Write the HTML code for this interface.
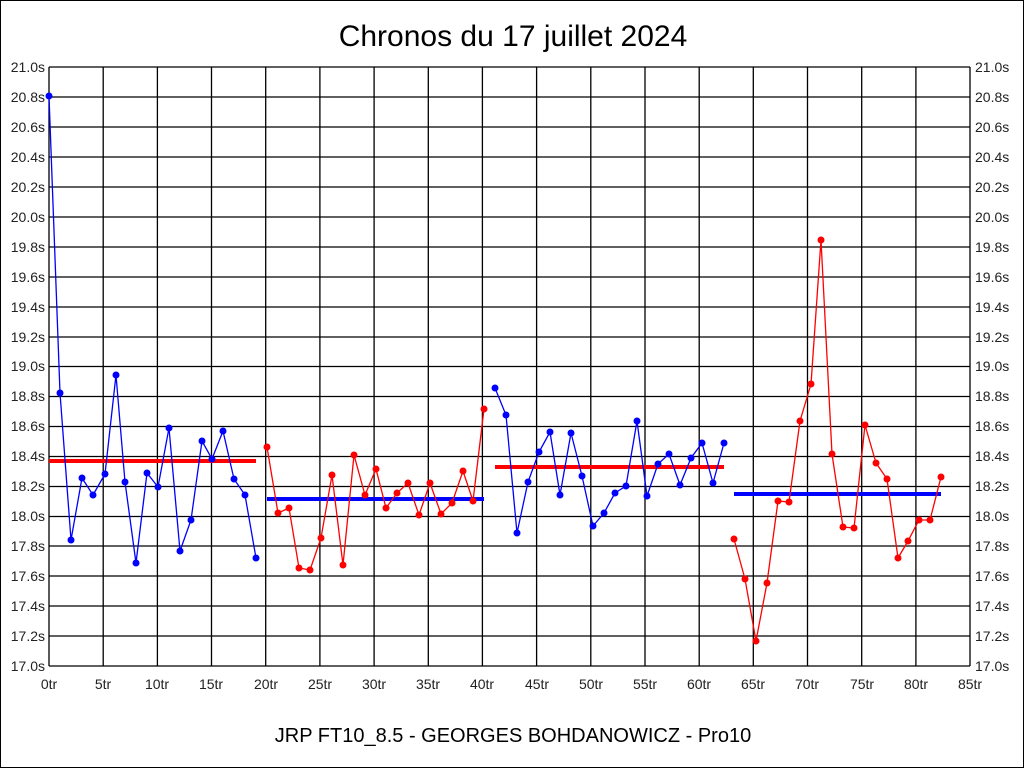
<!DOCTYPE html>
<html><head><meta charset="utf-8"><style>html,body{margin:0;padding:0;background:#fff}svg{display:block}</style></head><body>
<svg width="1024" height="768" xmlns="http://www.w3.org/2000/svg" font-family="Liberation Sans, sans-serif">
<rect x="0.5" y="0.5" width="1023" height="767" fill="#fff" stroke="#000"/>
<text x="513" y="46" font-size="30" text-anchor="middle">Chronos du 17 juillet 2024</text>
<text x="513" y="742" font-size="20" text-anchor="middle">JRP FT10_8.5 - GEORGES BOHDANOWICZ - Pro10</text>
<g stroke="#000" stroke-width="1.3" fill="none">
<path d="M49 67V666M103.2 67V666M157.4 67V666M211.5 67V666M265.7 67V666M319.9 67V666M374.1 67V666M428.3 67V666M482.4 67V666M536.6 67V666M590.8 67V666M645 67V666M699.2 67V666M753.3 67V666M807.5 67V666M861.7 67V666M915.9 67V666M970 67V666"/>
<path d="M49 67H970M49 97H970M49 127H970M49 157H970M49 187H970M49 217H970M49 247H970M49 277H970M49 307H970M49 337H970M49 366.5H970M49 396.5H970M49 426.5H970M49 456.5H970M49 486.5H970M49 516.5H970M49 546H970M49 576H970M49 606H970M49 636H970M49 666H970"/>
</g>
<g font-size="14" fill="#222" text-anchor="end">
<text x="45" y="72">21.0s</text><text x="45" y="102">20.8s</text><text x="45" y="132">20.6s</text><text x="45" y="162">20.4s</text><text x="45" y="192">20.2s</text><text x="45" y="222">20.0s</text><text x="45" y="252">19.8s</text><text x="45" y="282">19.6s</text><text x="45" y="312">19.4s</text><text x="45" y="342">19.2s</text><text x="45" y="371">19.0s</text><text x="45" y="401">18.8s</text><text x="45" y="431">18.6s</text><text x="45" y="461">18.4s</text><text x="45" y="491">18.2s</text><text x="45" y="521">18.0s</text><text x="45" y="551">17.8s</text><text x="45" y="581">17.6s</text><text x="45" y="611">17.4s</text><text x="45" y="641">17.2s</text><text x="45" y="671">17.0s</text>
</g>
<g font-size="14" fill="#222">
<text x="975" y="72">21.0s</text><text x="975" y="102">20.8s</text><text x="975" y="132">20.6s</text><text x="975" y="162">20.4s</text><text x="975" y="192">20.2s</text><text x="975" y="222">20.0s</text><text x="975" y="252">19.8s</text><text x="975" y="282">19.6s</text><text x="975" y="312">19.4s</text><text x="975" y="342">19.2s</text><text x="975" y="371">19.0s</text><text x="975" y="401">18.8s</text><text x="975" y="431">18.6s</text><text x="975" y="461">18.4s</text><text x="975" y="491">18.2s</text><text x="975" y="521">18.0s</text><text x="975" y="551">17.8s</text><text x="975" y="581">17.6s</text><text x="975" y="611">17.4s</text><text x="975" y="641">17.2s</text><text x="975" y="671">17.0s</text>
</g>
<g font-size="14" fill="#222" text-anchor="middle">
<text x="49" y="689">0tr</text><text x="103" y="689">5tr</text><text x="157" y="689">10tr</text><text x="211" y="689">15tr</text><text x="266" y="689">20tr</text><text x="320" y="689">25tr</text><text x="374" y="689">30tr</text><text x="428" y="689">35tr</text><text x="482" y="689">40tr</text><text x="537" y="689">45tr</text><text x="591" y="689">50tr</text><text x="645" y="689">55tr</text><text x="699" y="689">60tr</text><text x="753" y="689">65tr</text><text x="807" y="689">70tr</text><text x="862" y="689">75tr</text><text x="916" y="689">80tr</text><text x="970" y="689">85tr</text>
</g>
<g stroke-width="4">
<path d="M49 461H256" stroke="#f00"/>
<path d="M267 499H484" stroke="#00f"/>
<path d="M495 467H724" stroke="#f00"/>
<path d="M734 494H941" stroke="#00f"/>
</g>
<g fill="none" stroke-width="1.3">
<polyline stroke="#00f" points="49,96 60,393 71,540 82,478 93,495 105,474 116,375 125,482 136,563 147,473 158,487 169,428 180,551 191,520 202,441 212,459 223,431 234,479 245,495 256,558"/>
<polyline stroke="#f00" points="267,447 278,513 289,508 299,568 310,570 321,538 332,475 343,565 354,455 365,495 376,469 386,508 397,493 408,483 419,515 430,483 441,514 452,503 463,471 473,501 484,409"/>
<polyline stroke="#00f" points="495,388 506,415 517,533 528,482 539,452 550,432 560,495 571,433 582,476 593,526 604,513 615,493 626,486 637,421 647,496 658,464 669,454 680,485 691,458 702,443 713,483 724,443"/>
<polyline stroke="#f00" points="734,539 745,579 756,641 767,583 778,501 789,502 800,421 811,384 821,240 832,454 843,527 854,528 865,425 876,463 887,479 898,558 908,541 919,520 930,520 941,477"/>
</g>
<g fill="#00f">
<circle cx="49" cy="96" r="3.5"/><circle cx="60" cy="393" r="3.5"/><circle cx="71" cy="540" r="3.5"/><circle cx="82" cy="478" r="3.5"/><circle cx="93" cy="495" r="3.5"/><circle cx="105" cy="474" r="3.5"/><circle cx="116" cy="375" r="3.5"/><circle cx="125" cy="482" r="3.5"/><circle cx="136" cy="563" r="3.5"/><circle cx="147" cy="473" r="3.5"/><circle cx="158" cy="487" r="3.5"/><circle cx="169" cy="428" r="3.5"/><circle cx="180" cy="551" r="3.5"/><circle cx="191" cy="520" r="3.5"/><circle cx="202" cy="441" r="3.5"/><circle cx="212" cy="459" r="3.5"/><circle cx="223" cy="431" r="3.5"/><circle cx="234" cy="479" r="3.5"/><circle cx="245" cy="495" r="3.5"/><circle cx="256" cy="558" r="3.5"/>
<circle cx="495" cy="388" r="3.5"/><circle cx="506" cy="415" r="3.5"/><circle cx="517" cy="533" r="3.5"/><circle cx="528" cy="482" r="3.5"/><circle cx="539" cy="452" r="3.5"/><circle cx="550" cy="432" r="3.5"/><circle cx="560" cy="495" r="3.5"/><circle cx="571" cy="433" r="3.5"/><circle cx="582" cy="476" r="3.5"/><circle cx="593" cy="526" r="3.5"/><circle cx="604" cy="513" r="3.5"/><circle cx="615" cy="493" r="3.5"/><circle cx="626" cy="486" r="3.5"/><circle cx="637" cy="421" r="3.5"/><circle cx="647" cy="496" r="3.5"/><circle cx="658" cy="464" r="3.5"/><circle cx="669" cy="454" r="3.5"/><circle cx="680" cy="485" r="3.5"/><circle cx="691" cy="458" r="3.5"/><circle cx="702" cy="443" r="3.5"/><circle cx="713" cy="483" r="3.5"/><circle cx="724" cy="443" r="3.5"/>
</g>
<g fill="#f00">
<circle cx="267" cy="447" r="3.5"/><circle cx="278" cy="513" r="3.5"/><circle cx="289" cy="508" r="3.5"/><circle cx="299" cy="568" r="3.5"/><circle cx="310" cy="570" r="3.5"/><circle cx="321" cy="538" r="3.5"/><circle cx="332" cy="475" r="3.5"/><circle cx="343" cy="565" r="3.5"/><circle cx="354" cy="455" r="3.5"/><circle cx="365" cy="495" r="3.5"/><circle cx="376" cy="469" r="3.5"/><circle cx="386" cy="508" r="3.5"/><circle cx="397" cy="493" r="3.5"/><circle cx="408" cy="483" r="3.5"/><circle cx="419" cy="515" r="3.5"/><circle cx="430" cy="483" r="3.5"/><circle cx="441" cy="514" r="3.5"/><circle cx="452" cy="503" r="3.5"/><circle cx="463" cy="471" r="3.5"/><circle cx="473" cy="501" r="3.5"/><circle cx="484" cy="409" r="3.5"/>
<circle cx="734" cy="539" r="3.5"/><circle cx="745" cy="579" r="3.5"/><circle cx="756" cy="641" r="3.5"/><circle cx="767" cy="583" r="3.5"/><circle cx="778" cy="501" r="3.5"/><circle cx="789" cy="502" r="3.5"/><circle cx="800" cy="421" r="3.5"/><circle cx="811" cy="384" r="3.5"/><circle cx="821" cy="240" r="3.5"/><circle cx="832" cy="454" r="3.5"/><circle cx="843" cy="527" r="3.5"/><circle cx="854" cy="528" r="3.5"/><circle cx="865" cy="425" r="3.5"/><circle cx="876" cy="463" r="3.5"/><circle cx="887" cy="479" r="3.5"/><circle cx="898" cy="558" r="3.5"/><circle cx="908" cy="541" r="3.5"/><circle cx="919" cy="520" r="3.5"/><circle cx="930" cy="520" r="3.5"/><circle cx="941" cy="477" r="3.5"/>
</g>
</svg>
</body></html>
